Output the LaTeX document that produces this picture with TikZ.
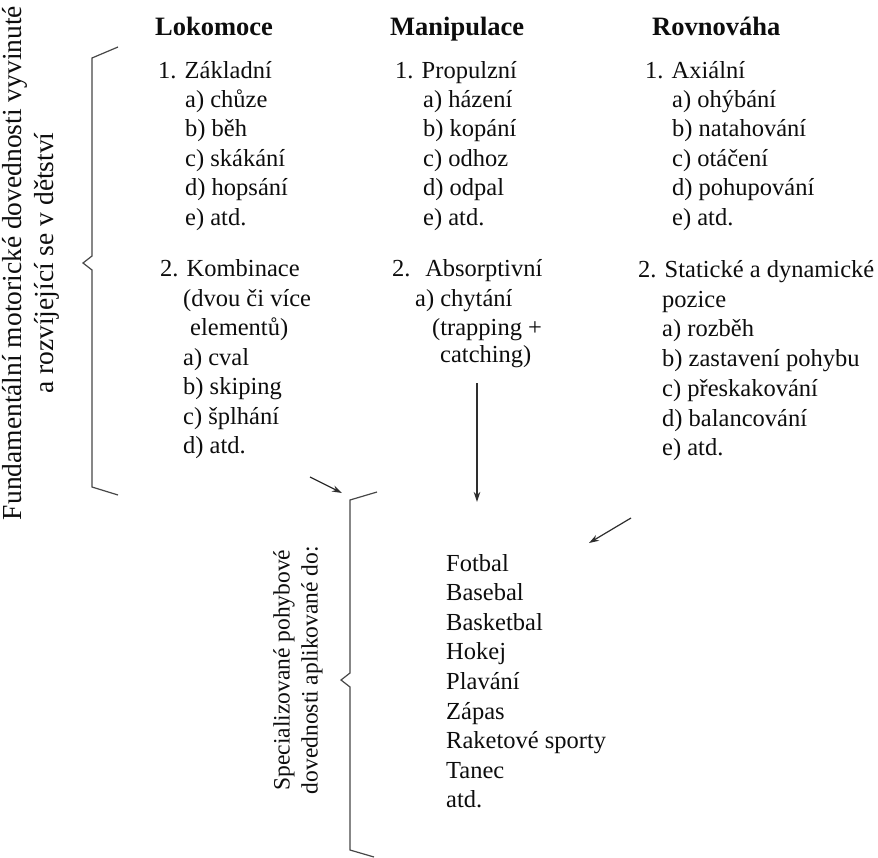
\documentclass[tikz,border=0pt]{standalone}
\usepackage{fontspec}
\setmainfont{Liberation Serif}
\usetikzlibrary{arrows.meta}
\begin{document}
\begin{tikzpicture}[x=1pt,y=-1pt,
  txt/.style={anchor=base west,inner sep=0pt,font=\fontsize{24.5}{29}\selectfont,text=black!95},
  head/.style={anchor=base west,inner sep=0pt,font=\fontsize{26.5}{29}\selectfont\bfseries,text=black!95},
  rot/.style={rotate=90,anchor=center,inner sep=0pt,align=center,text=black!95},
  bracepath/.style={draw=black!72,line width=1.2pt,line join=miter},
  arr/.style={draw=black!82,line width=1.2pt,-{Stealth[length=10pt,width=6.5pt]}}]
\useasboundingbox (0,0) rectangle (878,857);

% ---- Lokomoce ----
\node[head] (hL) at (155,35) {Lokomoce};
\node[txt] (L1) at (158,78) {1. Základní};
\node[txt] (La) at (185,107.4) {a) chůze};
\node[txt] (Lb) at (185,136.8) {b) běh};
\node[txt] (Lc) at (185,166.2) {c) skákání};
\node[txt] (Ld) at (185,195.6) {d) hopsání};
\node[txt] (Le) at (185,225) {e) atd.};
\node[txt] (L2) at (160,276.5) {2. Kombinace};
\node[txt] (L2x) at (183,306) {(dvou či více};
\node[txt] (L2y) at (190,335.5) {elementů)};
\node[txt] (L2a) at (183,365) {a) cval};
\node[txt] (L2b) at (183,394.5) {b) skiping};
\node[txt] (L2c) at (183,424) {c) šplhání};
\node[txt] (L2d) at (183,453.5) {d) atd.};

% ---- Manipulace ----
\node[head] (hM) at (390,35) {Manipulace};
\node[txt] (M1) at (395,78) {1. Propulzní};
\node[txt] (Ma) at (423,107.4) {a) házení};
\node[txt] (Mb) at (423,136.8) {b) kopání};
\node[txt] (Mc) at (423,166.2) {c) odhoz};
\node[txt] (Md) at (423,195.6) {d) odpal};
\node[txt] (Me) at (423,225) {e) atd.};
\node[txt] (M2) at (392,276.5) {2.\hspace{0.6em}Absorptivní};
\node[txt] (M2a) at (415,306) {a) chytání};
\node[txt] (M2b) at (432,335.5) {(trapping +};
\node[txt] (M2c) at (440,362.5) {catching)};

% ---- Rovnovaha ----
\node[head] (hR) at (652,35) {Rovnováha};
\node[txt] (R1) at (645,78) {1. Axiální};
\node[txt] (Ra) at (672,107.4) {a) ohýbání};
\node[txt] (Rb) at (672,136.8) {b) natahování};
\node[txt] (Rc) at (672,166.2) {c) otáčení};
\node[txt] (Rd) at (672,195.6) {d) pohupování};
\node[txt] (Re) at (672,225) {e) atd.};
\node[txt] (R2) at (638,277.5) {2. Statické a dynamické};
\node[txt] (R2p) at (662,307.5) {pozice};
\node[txt] (R2a) at (662,336) {a) rozběh};
\node[txt] (R2b) at (662,366) {b) zastavení pohybu};
\node[txt] (R2c) at (662,396) {c) přeskakování};
\node[txt] (R2d) at (662,426) {d) balancování};
\node[txt] (R2e) at (662,455) {e) atd.};

% ---- sports ----
\node[txt] (S1) at (446,571) {Fotbal};
\node[txt] (S2) at (446,600.6) {Basebal};
\node[txt] (S3) at (446,630.2) {Basketbal};
\node[txt] (S4) at (446,659.8) {Hokej};
\node[txt] (S5) at (446,689.4) {Plavání};
\node[txt] (S6) at (446,719) {Zápas};
\node[txt] (S7) at (446,748.6) {Raketové sporty};
\node[txt] (S8) at (446,778.2) {Tanec};
\node[txt] (S9) at (446,807.8) {atd.};

% ---- rotated labels ----
\node[rot,font=\fontsize{27.5}{32}\selectfont] (fund) at (31,263)
  {Fundamentální motorické dovednosti vyvinuté\\a rozvíjející se v dětství};
\node[rot,font=\fontsize{23.5}{28}\selectfont] (spec) at (298,670)
  {Specializované pohybové\\dovednosti aplikované do:};

% ---- braces ----
\draw[bracepath] (118,47) -- (92,58) -- (92,256) -- (83,263) -- (92,270) -- (92,487) -- (118,495);
\draw[bracepath] (377,492) -- (350,500) -- (350,673) -- (341,680) -- (350,687) -- (350,850) -- (374,857);

% ---- arrows ----
\coordinate (a1s) at (310,477);
\coordinate (a1e) at (342,493);
\coordinate (a2s) at (477,383);
\coordinate (a2e) at (477,502);
\coordinate (a3s) at (631,518);
\coordinate (a3e) at (589,543);
\draw[arr] (a1s) -- (a1e);
\draw[arr] (a2s) -- (a2e);
\draw[arr] (a3s) -- (a3e);
\end{tikzpicture}
\end{document}
